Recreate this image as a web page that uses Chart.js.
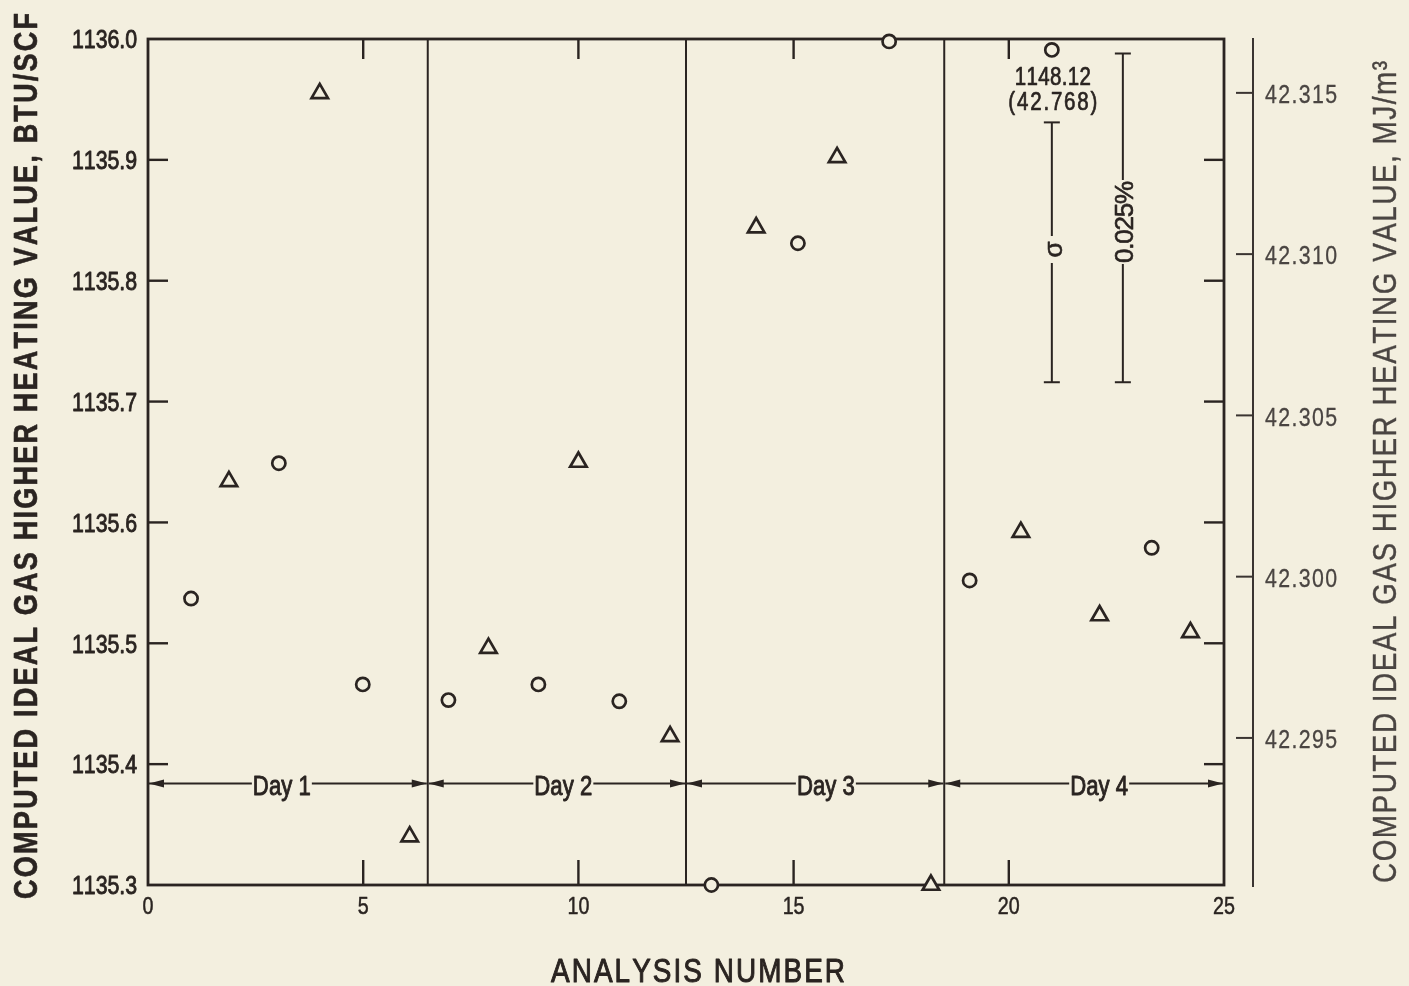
<!DOCTYPE html>
<html>
<head>
<meta charset="utf-8">
<script src="https://cdn.jsdelivr.net/npm/chart.js@4/dist/chart.umd.min.js"></script>
<style>
  html, body { margin: 0; padding: 0; background: #f3efdf; }
  #wrap { width: 1409px; height: 986px; }
</style>
</head>
<body>
<div id="wrap"><canvas id="c" width="1409" height="986"></canvas></div>
<script>
// ---------------- data ----------------
const circleX = [1.00, 3.04, 4.99, 6.98, 9.07, 10.95, 13.09, 15.10, 17.22, 19.09, 23.32];
const circleY = [1135.537, 1135.649, 1135.466, 1135.453, 1135.466, 1135.452, 1135.300, 1135.831, 1135.998, 1135.552, 1135.579];
const triangleX = [1.88, 3.99, 6.08, 7.91, 10.00, 12.13, 14.13, 16.01, 18.19, 20.28, 22.11, 24.22];
const triangleY = [1135.634, 1135.955, 1135.340, 1135.496, 1135.650, 1135.423, 1135.844, 1135.902, 1135.300, 1135.592, 1135.523, 1135.509];
// off-scale analysis, drawn at the top edge with its true value written beside it
const offScaleX = [21.0];
const offScalePlotY = [1135.991];
const offScaleLabel = ["1148.12", "(42.768)"];
// day boundaries and labels
const dayBounds = [0, 6.5, 12.5, 18.5, 25];
const dayLabels = ["Day 1", "Day 2", "Day 3", "Day 4"];
const dayLabelX = [3.11, 9.65, 15.75, 22.10];
const dayArrowY = 1135.384;
// scale bars: sigma and 0.025 %
const sigmaBar = { x: 21.0, lo: 1135.716, hi: 1135.931, label: "σ" };
const pctBar = { x: 22.65, lo: 1135.716, hi: 1135.988, label: "0.025%" };
// ticks
const xTicks = [0, 5, 10, 15, 20, 25];
const yTicks = [1135.3, 1135.4, 1135.5, 1135.6, 1135.7, 1135.8, 1135.9, 1136.0];
const mjTicks = [42.295, 42.300, 42.305, 42.310, 42.315];
const mjRange = [42.29044, 42.31667];

// ---------------- styles ----------------
const INK = '#2a2421';
const GREY = '#4a4542';
const BG = '#f3efdf';
const FAM = '"Liberation Sans", Arial, Helvetica, sans-serif';
const SX = 0.82; // horizontal condensing of the face

// draw text, condensed horizontally; optional target width (letter spacing), centred on cap height
function txt(ctx, text, x, y, o) {
  const size = o.size, rot = o.rot || 0, align = o.align || 'center', sx = o.sx || SX;
  ctx.save();
  ctx.font = (o.weight || 'normal') + ' ' + size + 'px ' + FAM;
  ctx.fillStyle = o.color || INK;
  ctx.strokeStyle = o.color || INK;
  ctx.lineWidth = o.thick === undefined ? 0.7 : o.thick;
  ctx.lineJoin = 'round';
  ctx.translate(x, y); ctx.rotate(rot); ctx.scale(sx, 1);
  ctx.textBaseline = 'alphabetic'; ctx.textAlign = 'left';
  const chars = [...text];
  const ws = chars.map(c => ctx.measureText(c).width);
  const sum = ws.reduce((a, b) => a + b, 0);
  const total = o.target ? o.target / sx : ctx.measureText(text).width;
  const sp = (o.target && chars.length > 1) ? (total - sum) / (chars.length - 1) : 0;
  let p = align === 'center' ? -total / 2 : align === 'right' ? -total : 0;
  const by = size * 0.358;
  const put = (s, px) => { ctx.fillText(s, px, by); if (ctx.lineWidth > 0) ctx.strokeText(s, px, by); };
  if (o.target) {
    chars.forEach((c, i) => { put(c, p); p += ws[i] + sp; });
  } else {
    put(text, p);
  }
  ctx.restore();
}
function seg(ctx, x1, y1, x2, y2) { ctx.beginPath(); ctx.moveTo(x1, y1); ctx.lineTo(x2, y2); ctx.stroke(); }
function arrowHead(ctx, tipX, y, dir) {
  ctx.beginPath(); ctx.moveTo(tipX, y); ctx.lineTo(tipX + dir * 15, y - 4); ctx.lineTo(tipX + dir * 15, y + 4); ctx.closePath(); ctx.fill();
}

const frame = {
  id: 'frame',
  beforeDraw(chart) {
    const ctx = chart.ctx;
    ctx.save(); ctx.fillStyle = BG; ctx.fillRect(0, 0, chart.width, chart.height); ctx.restore();
  },
  beforeDatasetsDraw(chart) {
    const { ctx, chartArea: a, scales: { x, y, y2 } } = chart;
    ctx.save();
    ctx.strokeStyle = INK; ctx.fillStyle = INK; ctx.lineCap = 'butt';
    // frame
    ctx.lineWidth = 2.8;
    ctx.strokeRect(a.left, a.top, a.right - a.left, a.bottom - a.top);
    // day separators
    ctx.lineWidth = 2;
    dayBounds.slice(1, -1).forEach(b => { const px = x.getPixelForValue(b); seg(ctx, px, a.top, px, a.bottom); });
    // inside ticks
    ctx.lineWidth = 2.4;
    xTicks.slice(1, -1).forEach(t => {
      const px = x.getPixelForValue(t);
      seg(ctx, px, a.bottom, px, a.bottom - 25);
      seg(ctx, px, a.top, px, a.top + 20);
    });
    yTicks.slice(1, -1).forEach(t => {
      const py = y.getPixelForValue(t);
      seg(ctx, a.left, py, a.left + 20, py);
      seg(ctx, a.right, py, a.right - 20, py);
    });
    // tick labels (positions from the library's scales)
    x.ticks.forEach(t => txt(ctx, String(t.value), x.getPixelForValue(t.value), a.bottom + 20, { size: 24, thick: 0.5 }));
    y.ticks.forEach(t => txt(ctx, Number(t.value).toFixed(1), a.left - 11, y.getPixelForValue(t.value), { size: 26, align: 'right', target: 65, thick: 0.9 }));
    // MJ axis line, ticks, labels
    ctx.strokeStyle = '#3a3431'; ctx.lineWidth = 2;
    const ax = a.right + 29;
    seg(ctx, ax, a.top - 1, ax, a.bottom + 2);
    y2.ticks.forEach(t => {
      const py = y2.getPixelForValue(t.value);
      seg(ctx, ax - 17, py, ax, py);
      txt(ctx, Number(t.value).toFixed(3), ax + 12, py + 1, { size: 26, align: 'left', target: 72, color: GREY, thick: 0.3 });
    });
    // day arrows
    ctx.strokeStyle = INK; ctx.fillStyle = INK; ctx.lineWidth = 1.8;
    const ay = y.getPixelForValue(dayArrowY);
    dayLabels.forEach((lab, i) => {
      const x0 = x.getPixelForValue(dayBounds[i]) + 1, x1 = x.getPixelForValue(dayBounds[i + 1]) - 1;
      const cx = x.getPixelForValue(dayLabelX[i]);
      const w = 58;
      seg(ctx, x0, ay, cx - w / 2 - 1, ay);
      seg(ctx, cx + w / 2 + 1, ay, x1, ay);
      arrowHead(ctx, x0, ay, 1); arrowHead(ctx, x1, ay, -1);
      txt(ctx, lab, cx, ay + 2, { size: 27, target: w, thick: 0.9 });
    });
    // scale bars
    ctx.lineWidth = 2;
    const drawBar = (bar, gapLo, gapHi, size, target) => {
      const px = x.getPixelForValue(bar.x);
      const top = y.getPixelForValue(bar.hi), bot = y.getPixelForValue(bar.lo);
      seg(ctx, px, top, px, gapLo); seg(ctx, px, gapHi, px, bot);
      seg(ctx, px - 8, top, px + 8, top); seg(ctx, px - 8, bot, px + 8, bot);
      txt(ctx, bar.label, px + 1, (gapLo + gapHi) / 2, { size: size, rot: -Math.PI / 2, target: target, sx: 1, thick: 0.6 });
    };
    drawBar(sigmaBar, 236, 263, 26, 16);
    drawBar(pctBar, 180, 264, 26, 82);
    ctx.restore();
  },
  afterDraw(chart) {
    const { ctx, scales: { x } } = chart;
    const px = x.getPixelForValue(offScaleX[0]);
    txt(ctx, offScaleLabel[0], px + 1, 76, { size: 25, target: 76, thick: 0.7 });
    txt(ctx, offScaleLabel[1], px + 1, 101, { size: 25, target: 89, thick: 0.7 });
    // axis titles
    txt(ctx, 'COMPUTED IDEAL GAS HIGHER HEATING VALUE, BTU/SCF', 25, 456, { size: 33, weight: 'bold', rot: -Math.PI / 2, target: 886, thick: 0.6 });
    txt(ctx, 'COMPUTED IDEAL GAS HIGHER HEATING VALUE, MJ/m³', 1384, 472, { size: 34, rot: -Math.PI / 2, target: 822, color: GREY, thick: 0.4 });
    txt(ctx, 'ANALYSIS NUMBER', 698, 970, { size: 34, target: 294, thick: 1.0 });
  }
};

const ptCommon = { borderColor: INK, backgroundColor: BG, borderWidth: 2.7, showLine: false, clip: false };

new Chart(document.getElementById('c'), {
  type: 'scatter',
  data: {
    datasets: [
      Object.assign({ label: 'circles', data: circleX.map((v, i) => ({ x: v, y: circleY[i] })), pointStyle: 'circle', pointRadius: 6.6 }, ptCommon),
      Object.assign({ label: 'triangles', data: triangleX.map((v, i) => ({ x: v, y: triangleY[i] })), pointStyle: 'triangle', pointRadius: 9.5 }, ptCommon),
      Object.assign({ label: 'off-scale', data: offScaleX.map((v, i) => ({ x: v, y: offScalePlotY[i] })), pointStyle: 'circle', pointRadius: 6.6 }, ptCommon)
    ]
  },
  options: {
    responsive: false,
    animation: false,
    devicePixelRatio: 1,
    layout: { padding: { top: 39, left: 0, right: 0, bottom: 0 } },
    plugins: { legend: { display: false }, tooltip: { enabled: false } },
    elements: { point: { hoverRadius: 6.6 } },
    scales: {
      x: {
        type: 'linear', min: 0, max: 25,
        grid: { display: false, drawTicks: false }, border: { display: false },
        afterBuildTicks: s => { s.ticks = xTicks.map(v => ({ value: v })); },
        ticks: { display: false },
        afterFit: s => { s.height = 101; }
      },
      y: {
        type: 'linear', position: 'left', min: 1135.3, max: 1136.0,
        grid: { display: false, drawTicks: false }, border: { display: false },
        afterBuildTicks: s => { s.ticks = yTicks.map(v => ({ value: v })); },
        ticks: { display: false },
        afterFit: s => { s.width = 148; }
      },
      y2: {
        type: 'linear', position: 'right', min: mjRange[0], max: mjRange[1],
        grid: { display: false, drawTicks: false }, border: { display: false },
        afterBuildTicks: s => { s.ticks = mjTicks.map(v => ({ value: v })); },
        ticks: { display: false },
        afterFit: s => { s.width = 185; }
      }
    }
  },
  plugins: [frame]
});
</script>
</body>
</html>
